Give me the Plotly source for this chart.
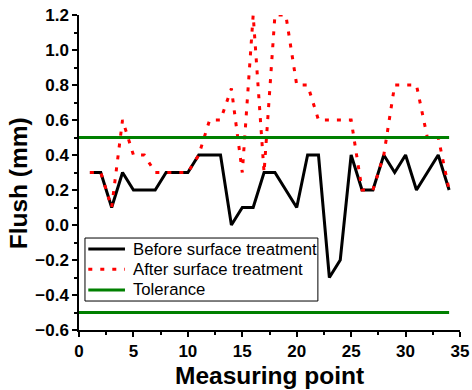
import plotly.graph_objects as go

points = list(range(1, 35))
before = [0.3, 0.3, 0.1, 0.3, 0.2, 0.2, 0.2, 0.3, 0.3, 0.3, 0.4, 0.4, 0.4, 0.0, 0.1, 0.1, 0.3,
          0.3, 0.2, 0.1, 0.4, 0.4, -0.3, -0.2, 0.4, 0.2, 0.2, 0.4, 0.3, 0.4, 0.2, 0.3, 0.4, 0.2]
after = [0.3, 0.3, 0.1, 0.6, 0.4, 0.4, 0.3, 0.3, 0.3, 0.3, 0.4, 0.6, 0.6, 0.78, 0.3, 1.2, 0.3,
         1.2, 1.2, 0.8, 0.8, 0.6, 0.6, 0.6, 0.6, 0.2, 0.2, 0.4, 0.8, 0.8, 0.8, 0.5, 0.5, 0.2]
tol_x = [0, 34, None, 0, 34]
tol_y = [0.5, 0.5, None, -0.5, -0.5]
series_names = ["Before surface treatment", "After surface treatment", "Tolerance"]

FONT = "Liberation Sans, Arial, sans-serif"
styles = [dict(color="black", width=3),
          dict(color="#ff0000", width=3, dash="4px,8px"),
          dict(color="#008000", width=3)]

fig = go.Figure()
fig.add_trace(go.Scatter(x=points, y=before, mode="lines", name=series_names[0], line=styles[0]))
fig.add_trace(go.Scatter(x=points, y=after, mode="lines", name=series_names[1], line=styles[1]))
fig.add_trace(go.Scatter(x=tol_x, y=tol_y, mode="lines", name=series_names[2], line=styles[2],
                         connectgaps=False))

axis_common = dict(
    showline=True, linecolor="black", linewidth=1.5, mirror=False,
    showgrid=False, zeroline=False, automargin=False,
    ticks="outside", ticklen=5, tickwidth=1.5, tickcolor="black",
    tickfont=dict(family=FONT, size=17, color="black", weight="bold"),
)
fig.update_xaxes(range=[0, 35], dtick=5, tick0=0,
                 minor=dict(dtick=2.5, ticks="outside", ticklen=3, tickwidth=1.5, tickcolor="black"),
                 **axis_common)
fig.update_yaxes(range=[-0.6, 1.2], dtick=0.2, tick0=0, tickformat=".1f",
                 minor=dict(dtick=0.1, ticks="outside", ticklen=3, tickwidth=1.5, tickcolor="black"),
                 **axis_common)

fig.add_annotation(text="Measuring point", xref="paper", yref="paper",
                   x=0.5, y=-0.143, xanchor="center", yanchor="middle", showarrow=False,
                   font=dict(family=FONT, size=24.5, color="black", weight="bold"))
fig.add_annotation(text="Flush (mm)", textangle=-90, xref="paper", yref="paper",
                   x=-0.158, y=0.465, xanchor="center", yanchor="middle", showarrow=False,
                   font=dict(family=FONT, size=24.5, color="black", weight="bold"))

# legend box drawn in paper coordinates (compact row spacing as in the reference)
leg_x0, leg_x1, leg_y0, leg_y1 = 0.0157, 0.627, 0.092, 0.292
fig.add_shape(type="rect", xref="paper", yref="paper", x0=leg_x0, x1=leg_x1, y0=leg_y0, y1=leg_y1,
              line=dict(color="black", width=1), fillcolor="white", layer="above")
row_y = [0.257, 0.193, 0.127]
for name, st, ry in zip(series_names, styles, row_y):
    fig.add_shape(type="line", xref="paper", yref="paper", x0=0.0244, x1=0.1207, y0=ry, y1=ry,
                  line=st, layer="above")
    fig.add_annotation(text=name, xref="paper", yref="paper", x=0.1365, y=ry,
                       xanchor="left", yanchor="middle", showarrow=False,
                       font=dict(family=FONT, size=16.7, color="black"))

fig.update_layout(
    width=472, height=390,
    margin=dict(l=79, r=12, t=15, b=60, autoexpand=False),
    paper_bgcolor="white", plot_bgcolor="white",
    showlegend=False,
)

fig.write_html("out.html")
